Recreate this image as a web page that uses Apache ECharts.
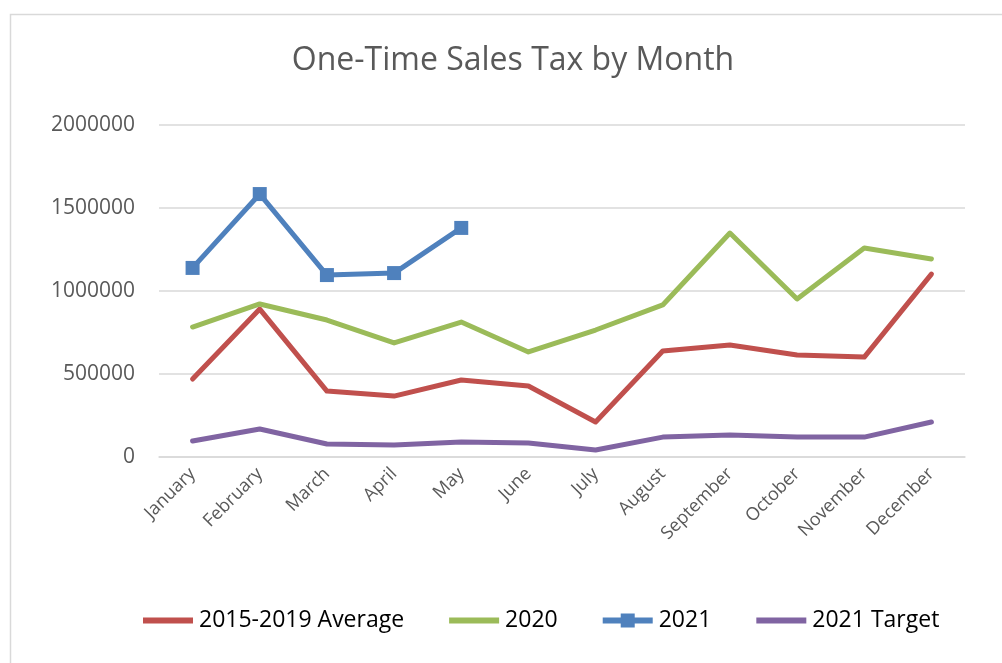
<!DOCTYPE html>
<html>
<head>
<meta charset="utf-8">
<script src="https://cdn.jsdelivr.net/npm/echarts@6/dist/echarts.min.js"></script>
<style>
  html, body { margin: 0; padding: 0; background: #fff; }
  #chart { width: 1002px; height: 663px; }
</style>
</head>
<body>
<div id="chart"></div>
<script>
// data
var months = ['January', 'February', 'March', 'April', 'May', 'June', 'July',
              'August', 'September', 'October', 'November', 'December'];
var avg1519 = [470000, 891000, 397000, 367000, 464000, 428000, 211000, 639000, 675000, 614000, 602000, 1102000];
var y2020 = [783000, 922000, 825000, 687000, 813000, 633000, 765000, 916000, 1349000, 952000, 1259000, 1193000];
var y2021 = [1139000, 1584000, 1096000, 1108000, 1380000];
var target2021 = [96000, 169000, 78000, 72000, 90000, 84000, 42000, 120000, 132000, 120000, 120000, 211000];
var yTicks = [0, 500000, 1000000, 1500000, 2000000];

var font = '"Open Sans", "Liberation Sans", sans-serif';

// legend icons: plain line, and line with a square marker in the middle
var lineIcon = 'path://M0,4 L50,4 L50,10 L0,10 Z';
var markerIcon = 'path://M0,4 L18,4 L18,0 L32,0 L32,4 L50,4 L50,10 L32,10 L32,14 L18,14 L18,10 L0,10 Z';

var chart = echarts.init(document.getElementById('chart'));

function lineSeries(name, data, color, withMarker) {
    return {
        name: name,
        type: 'line',
        data: data,
        symbol: withMarker ? 'rect' : 'none',
        symbolSize: 14,
        showSymbol: withMarker,
        itemStyle: { color: color },
        lineStyle: { color: color, width: 5, cap: 'round', join: 'round' },
        emphasis: { disabled: true },
        animation: false
    };
}

var option = {
    backgroundColor: '#fff',
    animation: false,
    title: {
        text: 'One-Time Sales Tax by Month',
        left: 508,
        textAlign: 'center',
        top: 40,
        textStyle: { fontFamily: font, fontSize: 32, fontWeight: 'normal', color: '#595959' }
    },
    graphic: [{
        type: 'rect',
        shape: { x: 10.5, y: 14.5, width: 1000, height: 660 },
        style: { fill: 'none', stroke: '#d9d9d9', lineWidth: 1.5 },
        silent: true,
        z: -1
    }],
    grid: { left: 159, right: 37, top: 125, bottom: 206 },
    legend: {
        bottom: 26,
        left: 138,
        itemWidth: 50,
        itemHeight: 14,
        itemGap: 45,
        textStyle: { fontFamily: font, fontSize: 23, color: '#000', padding: [0, 0, 0, 1] },
        data: [
            { name: '2015-2019 Average', icon: lineIcon },
            { name: '2020', icon: lineIcon },
            { name: '2021', icon: markerIcon },
            { name: '2021 Target', icon: lineIcon }
        ]
    },
    xAxis: {
        type: 'category',
        data: months,
        boundaryGap: true,
        axisLine: { lineStyle: { color: '#d9d9d9', width: 1.5 } },
        axisTick: { show: false },
        axisLabel: { rotate: 45, fontFamily: font, fontSize: 18, color: '#595959', margin: 14, interval: 0 }
    },
    yAxis: {
        type: 'value',
        min: yTicks[0],
        max: yTicks[yTicks.length - 1],
        interval: yTicks[1] - yTicks[0],
        axisLine: { show: false },
        axisTick: { show: false },
        splitLine: { lineStyle: { color: '#d9d9d9', width: 1.5 } },
        axisLabel: {
            fontFamily: font, fontSize: 21, color: '#595959', margin: 24,
            formatter: function (v) { return String(v); }
        }
    },
    series: [
        lineSeries('2015-2019 Average', avg1519, '#C0504D', false),
        lineSeries('2020', y2020, '#9BBB59', false),
        lineSeries('2021', y2021, '#4F81BD', true),
        lineSeries('2021 Target', target2021, '#8064A2', false)
    ]
};

chart.setOption(option);
</script>
</body>
</html>
